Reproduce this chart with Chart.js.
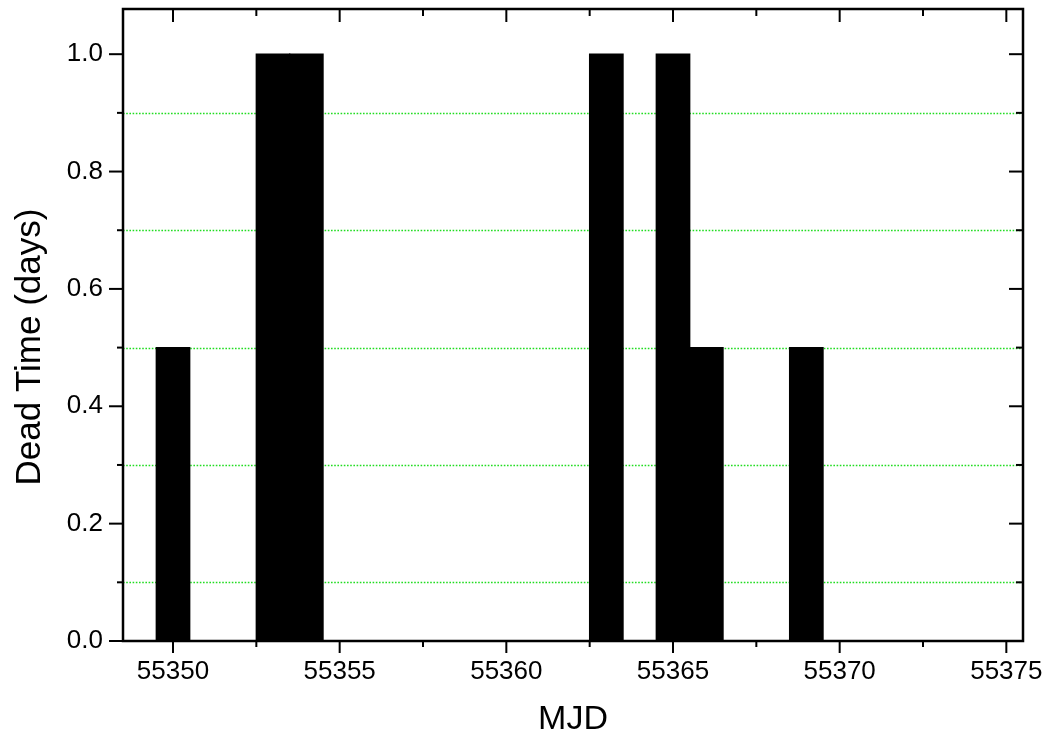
<!DOCTYPE html>
<html><head><meta charset="utf-8">
<script src="https://cdn.jsdelivr.net/npm/chart.js@4"></script>
<style>html,body{margin:0;padding:0;background:#fff}#wrap{width:1048px;height:742px}</style>
</head><body><div id="wrap"><canvas id="c" width="1048" height="742"></canvas></div>
<script>
const mjd = [55350, 55353, 55354, 55363, 55365, 55366, 55369];
const deadTime = [0.5, 1.0, 1.0, 1.0, 1.0, 0.5, 0.5];
const xMajorTicks = [55350, 55355, 55360, 55365, 55370, 55375];
const xMinorTicks = [55352.5, 55357.5, 55362.5, 55367.5, 55372.5];
const yMajorTicks = [0, 0.2, 0.4, 0.6, 0.8, 1.0];
const yMinorTicks = [0.1, 0.3, 0.5, 0.7, 0.9];
const xRange = [55348.5, 55375.5];
const yRange = [0, 1.077];
const xTitle = 'MJD';
const yTitle = 'Dead Time (days)';

const FONT = "'Liberation Sans', Arial, sans-serif";

const framePlugin = {
  id: 'frame',
  beforeDatasetsDraw(chart) {
    const {ctx, chartArea: a, scales: {y}} = chart;
    ctx.save();
    ctx.strokeStyle = '#22dd22';
    ctx.lineWidth = 1.4;
    ctx.setLineDash([1.6, 1.6]);
    yMinorTicks.forEach(v => {
      const py = Math.round(y.getPixelForValue(v)) + 0.5;
      ctx.beginPath(); ctx.moveTo(a.left, py); ctx.lineTo(a.right, py); ctx.stroke();
    });
    ctx.restore();
  },
  afterDatasetsDraw(chart) {
    const {ctx, chartArea: a, scales: {x, y}} = chart;
    ctx.save();
    ctx.strokeStyle = '#000';
    ctx.lineWidth = 2.5;
    ctx.strokeRect(a.left, a.top, a.right - a.left, a.bottom - a.top);
    ctx.lineWidth = 2;
    const seg = (x1, y1, x2, y2) => { ctx.beginPath(); ctx.moveTo(x1, y1); ctx.lineTo(x2, y2); ctx.stroke(); };
    xMajorTicks.forEach(v => { const px = x.getPixelForValue(v); seg(px, a.bottom, px, a.bottom + 12); seg(px, a.top, px, a.top + 13); });
    xMinorTicks.forEach(v => { const px = x.getPixelForValue(v); seg(px, a.bottom, px, a.bottom + 6); seg(px, a.top, px, a.top + 7); });
    yMajorTicks.forEach(v => { const py = y.getPixelForValue(v); seg(a.left - 14, py, a.left, py); seg(a.right - 14, py, a.right, py); });
    yMinorTicks.forEach(v => { const py = y.getPixelForValue(v); seg(a.left - 6, py, a.left, py); seg(a.right - 7, py, a.right, py); });
    // y axis title (placed slightly below the plot centre, as in the original)
    ctx.fillStyle = '#000';
    ctx.font = "35px " + FONT;
    ctx.textAlign = 'center';
    ctx.textBaseline = 'middle';
    ctx.translate(30, (a.top + a.bottom) / 2 + 22);
    ctx.rotate(-Math.PI / 2);
    ctx.fillText(yTitle, 0, 0);
    ctx.restore();
  }
};

new Chart(document.getElementById('c'), {
  type: 'bar',
  data: {
    datasets: [{
      data: mjd.map((m, i) => ({x: m, y: deadTime[i]})),
      backgroundColor: '#000',
      borderWidth: 0,
      inflateAmount: 0.7,
      barPercentage: 1,
      categoryPercentage: 1
    }]
  },
  options: {
    responsive: false,
    animation: false,
    layout: {padding: {top: 9, right: 25, left: 0, bottom: 0}},
    plugins: {legend: {display: false}, tooltip: {enabled: false}},
    scales: {
      x: {
        type: 'linear', position: 'bottom', min: xRange[0], max: xRange[1], offset: false,
        afterBuildTicks: s => { s.ticks = xMajorTicks.map(v => ({value: v})); },
        afterFit: s => { s.height = 101; s.paddingLeft = 0; s.paddingRight = 0; },
        grid: {display: false, drawTicks: false},
        border: {display: false},
        ticks: {font: {family: FONT, size: 26}, color: '#000', padding: 15, maxRotation: 0, autoSkip: false, callback: v => String(v)},
        title: {display: true, text: xTitle, color: '#000', font: {family: FONT, size: 34}, padding: {top: 2, bottom: 2}}
      },
      y: {
        type: 'linear', position: 'left', min: yRange[0], max: yRange[1],
        afterBuildTicks: s => { s.ticks = yMajorTicks.map(v => ({value: v})); },
        afterFit: s => { s.width = 123; s.paddingTop = 0; s.paddingBottom = 0; },
        grid: {display: false, drawTicks: false},
        border: {display: false},
        ticks: {font: {family: FONT, size: 26}, color: '#000', padding: 20, callback: v => Number(v).toFixed(1)},
        title: {display: false}
      }
    }
  },
  plugins: [framePlugin]
});
</script>
</body></html>
